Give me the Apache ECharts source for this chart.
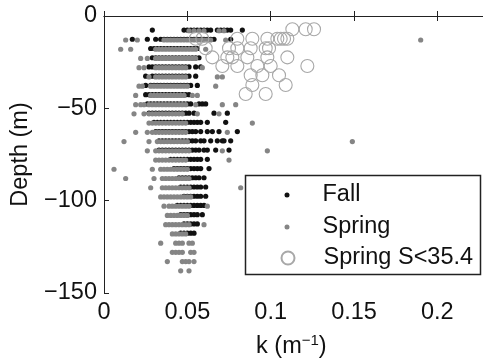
<!DOCTYPE html>
<html><head><meta charset="utf-8">
<script src="https://cdn.jsdelivr.net/npm/echarts@6/dist/echarts.min.js"></script>
<style>html,body{margin:0;padding:0;background:#fff}#c{width:483px;height:363px}</style>
</head><body><div id="c"></div>
<script>
// depth rows (m)
const springDepths = [-8,-13,-18,-23,-28,-33,-38,-43,-48,-53,-58,-63,-68,-73,-78,-83,-88,-93,-98,-103,-108,-113,-118,-123,-128,-133,-138];
const fallDepths = [-7.6,-12.6,-17.6,-22.6,-27.6,-32.6,-37.6,-42.6,-47.6,-52.6,-57.6,-62.6,-67.6,-72.6,-77.6,-82.6,-87.6,-92.6,-97.6,-102.6,-107.6,-112.6,-117.6,-122.6,-127.6,-132.6,-137.6];
// k values per row (m^-1)
const fallK = [
 [0.029,0.048,0.050,0.052,0.054,0.056,0.058,0.060,0.062,0.064,0.068,0.070,0.072,0.074,0.076,0.083],
 [0.017,0.026,0.031,0.034,0.036,0.038,0.040,0.042,0.044,0.046,0.048,0.050,0.052,0.054,0.056,0.058,0.060,0.062,0.064,0.066,0.076],
 [0.028,0.030,0.032,0.034,0.036,0.038,0.040,0.042,0.044,0.046,0.048,0.050,0.052,0.054,0.056],
 [0.029,0.031,0.033,0.035,0.037,0.039,0.041,0.043,0.045,0.047,0.049,0.051,0.053,0.055,0.057],
 [0.027,0.029,0.031,0.033,0.035,0.037,0.039,0.041,0.043,0.045,0.047,0.049,0.051,0.055,0.058],
 [0.025,0.029,0.031,0.033,0.035,0.037,0.039,0.041,0.043,0.045,0.047,0.049,0.051,0.055],
 [0.025,0.028,0.030,0.032,0.034,0.036,0.038,0.040,0.042,0.044,0.046,0.048,0.050,0.052,0.056],
 [0.025,0.027,0.029,0.031,0.033,0.035,0.037,0.039,0.041,0.043,0.045,0.047,0.049,0.051],
 [0.026,0.028,0.030,0.032,0.034,0.036,0.038,0.040,0.042,0.044,0.046,0.048,0.050,0.052,0.057,0.059,0.061],
 [0.027,0.029,0.031,0.033,0.035,0.037,0.039,0.041,0.043,0.045,0.047,0.049,0.051,0.054,0.066,0.074],
 [0.030,0.032,0.034,0.036,0.038,0.040,0.042,0.044,0.046,0.048,0.050,0.052,0.054,0.056,0.058,0.062,0.073],
 [0.031,0.033,0.035,0.037,0.039,0.041,0.043,0.045,0.047,0.049,0.051,0.053,0.055,0.058,0.062,0.065,0.069,0.080],
 [0.033,0.035,0.037,0.039,0.041,0.043,0.045,0.047,0.049,0.051,0.053,0.055,0.058,0.060,0.064,0.068,0.071,0.072,0.076],
 [0.033,0.035,0.037,0.039,0.041,0.043,0.045,0.047,0.049,0.051,0.053,0.055,0.057,0.060,0.062,0.067,0.075],
 [0.040,0.042,0.044,0.046,0.048,0.050,0.052,0.054,0.056,0.058,0.062],
 [0.042,0.044,0.046,0.048,0.050,0.052,0.054,0.056,0.058,0.063],
 [0.045,0.047,0.049,0.051,0.053,0.055,0.057,0.060],
 [0.046,0.048,0.050,0.052,0.054,0.056,0.058,0.061],
 [0.048,0.050,0.052,0.054,0.056,0.058,0.061],
 [0.044,0.046,0.048,0.050,0.052,0.054,0.056,0.058,0.060],
 [0.046,0.048,0.050,0.052,0.054,0.056,0.059],
 [0.048,0.050,0.052,0.054,0.056],
 [0.046,0.048,0.050,0.052,0.054],
 [], [], [], []
];
const springK = [
 [0.051,0.054,0.057,0.060,0.069,0.072],
 [0.013,0.020,0.036,0.038,0.040,0.042,0.044,0.046,0.048,0.050,0.052,0.054,0.056,0.058,0.060,0.062,0.064,0.073,0.190],
 [0.010,0.016,0.031,0.033,0.035,0.037,0.039,0.041,0.043,0.045,0.047,0.049,0.051,0.053,0.055,0.061],
 [0.022,0.026,0.031,0.033,0.035,0.037,0.039,0.041,0.043,0.045,0.047,0.049,0.051,0.053,0.055],
 [0.021,0.024,0.031,0.033,0.035,0.037,0.039,0.041,0.043,0.045,0.047,0.049,0.059],
 [0.027,0.031,0.033,0.035,0.037,0.039,0.041,0.043,0.045,0.047,0.049,0.068,0.071],
 [0.021,0.023,0.028,0.030,0.032,0.034,0.036,0.038,0.040,0.042,0.044,0.046,0.048,0.050,0.067],
 [0.019,0.028,0.030,0.032,0.034,0.036,0.038,0.040,0.042,0.044,0.046,0.048,0.053,0.056],
 [0.019,0.022,0.024,0.027,0.029,0.031,0.033,0.035,0.037,0.039,0.041,0.043,0.045,0.047,0.049,0.055,0.071,0.079],
 [0.018,0.024,0.027,0.029,0.031,0.033,0.035,0.037,0.039,0.041,0.043,0.045,0.047,0.056,0.069],
 [0.027,0.029,0.031,0.033,0.035,0.037,0.039,0.041,0.043,0.045,0.047,0.049,0.089],
 [0.019,0.026,0.029,0.031,0.033,0.035,0.037,0.039,0.041,0.043,0.045,0.047,0.049,0.074],
 [0.012,0.027,0.032,0.034,0.036,0.038,0.040,0.042,0.044,0.046,0.048,0.050,0.149],
 [0.026,0.031,0.033,0.035,0.037,0.039,0.041,0.043,0.045,0.047,0.049,0.051,0.071,0.098],
 [0.031,0.033,0.035,0.037,0.039,0.041,0.043,0.045,0.047,0.049,0.075],
 [0.006,0.029,0.034,0.036,0.038,0.040,0.042,0.044,0.046,0.048,0.050],
 [0.013,0.030,0.035,0.037,0.039,0.041,0.043,0.045,0.047,0.049,0.051],
 [0.028,0.035,0.037,0.039,0.041,0.043,0.045,0.047,0.049,0.051,0.082],
 [0.034,0.036,0.038,0.040,0.042,0.044,0.046,0.048,0.050,0.052],
 [0.036,0.039,0.041,0.043,0.045,0.047,0.049,0.051,0.062],
 [0.038,0.040,0.042,0.044,0.046,0.048,0.050],
 [0.037,0.039,0.041,0.043,0.045,0.047,0.049,0.051,0.060],
 [0.041,0.043,0.045,0.047,0.049],
 [0.034,0.043,0.045,0.047,0.051,0.053],
 [0.041,0.043,0.045,0.047,0.052,0.054],
 [0.038,0.047,0.049,0.051,0.054],
 [0.046,0.051]
];
// Spring, salinity S<35.4
const lowSalDepths = [-7.2,-12.3,-17.5,-22.4,-27.1,-32.1,-37.4,-42.2];
const lowSalK = [
 [0.113,0.121,0.126],
 [0.055,0.059,0.080,0.089,0.098,0.104,0.106,0.108,0.110],
 [0.061,0.075,0.080,0.088,0.097,0.099],
 [0.065,0.074,0.077,0.086,0.098,0.110],
 [0.071,0.080,0.092,0.100,0.122],
 [0.088,0.095,0.105],
 [0.089,0.109],
 [0.085,0.097]
];
const xTicks = {min:0, max:0.25, interval:0.05};
const yTicks = {min:-150, max:0, interval:50};

function pairs(depths, ks){
  const out=[];
  ks.forEach((row,i)=>row.forEach(k=>out.push([k,depths[i]])));
  return out;
}
const FONT = '"Liberation Sans", Arial, Helvetica, sans-serif';
const FS = 23.5;
const chart = echarts.init(document.getElementById('c'), null, {renderer:'canvas'});
const axisLine = {show:true, lineStyle:{color:'#222', width:1}};
const axisTick = {show:true, inside:true, length:5, lineStyle:{color:'#222', width:1}};
chart.setOption({
  animation:false,
  backgroundColor:'#fff',
  textStyle:{fontFamily:FONT},
  grid:{left:104, top:16, width:416.7, height:277, containLabel:false, outerBoundsMode:'none'},
  xAxis:[{
    type:'value', position:'bottom', min:xTicks.min, max:xTicks.max, interval:xTicks.interval,
    axisLine, axisTick, splitLine:{show:false},
    axisLabel:{color:'#111', fontSize:FS, fontFamily:FONT, margin:8},
    name:'{a|k (m}{b|\u22121}{a|)}', nameLocation:'middle', nameGap:40,
    nameTextStyle:{padding:[0,42,0,0], rich:{
      a:{fontSize:FS, fontFamily:FONT, color:'#111'},
      b:{fontSize:15, fontFamily:FONT, color:'#111', padding:[0,0,13,0]}
    }}
  },{
    type:'value', position:'top', min:xTicks.min, max:xTicks.max, interval:xTicks.interval,
    axisLine, axisTick, axisLabel:{show:false}, splitLine:{show:false}
  }],
  yAxis:[{
    type:'value', min:yTicks.min, max:yTicks.max, interval:yTicks.interval,
    axisLine, axisTick, splitLine:{show:false},
    axisLabel:{color:'#111', fontSize:FS, fontFamily:FONT, margin:7,
      formatter:v=>String(v).replace('-', '\u2212')},
    name:'Depth (m)', nameLocation:'middle', nameGap:71, nameRotate:90,
    nameTextStyle:{fontSize:FS, fontFamily:FONT, color:'#111'}
  }],
  legend:[{
    data:['Fall','Spring'], orient:'vertical', left:284.5, top:183, padding:0,
    itemWidth:5, itemHeight:5, itemGap:8, icon:'circle',
    textStyle:{fontSize:FS, fontFamily:FONT, color:'#111', padding:[0,0,0,28]}, z:6
  },{
    data:['Spring S<35.4'], orient:'vertical', left:280.5, top:246, padding:0,
    itemWidth:13, itemHeight:13, icon:'circle',
    textStyle:{fontSize:FS, fontFamily:FONT, color:'#111', padding:[0,0,0,24]}, z:6
  }],
  graphic:[{
    type:'rect', z:5, shape:{x:245.5, y:175.5, width:235, height:99},
    style:{fill:'#fff', stroke:'#222', lineWidth:1.5}
  }],
  series:[{
    name:'Fall', type:'scatter', data:pairs(fallDepths, fallK),
    symbol:'circle', symbolSize:5.2, itemStyle:{color:'#111', opacity:1}
  },{
    name:'Spring', type:'scatter', data:pairs(springDepths, springK),
    symbol:'circle', symbolSize:5.2, itemStyle:{color:'#858585', opacity:1}
  },{
    name:'Spring S<35.4', type:'scatter', data:pairs(lowSalDepths, lowSalK),
    symbol:'circle', symbolSize:13,
    itemStyle:{color:'rgba(255,255,255,0)', borderColor:'#a8a8a8', borderWidth:1.1, opacity:1}
  }]
});
</script></body></html>
